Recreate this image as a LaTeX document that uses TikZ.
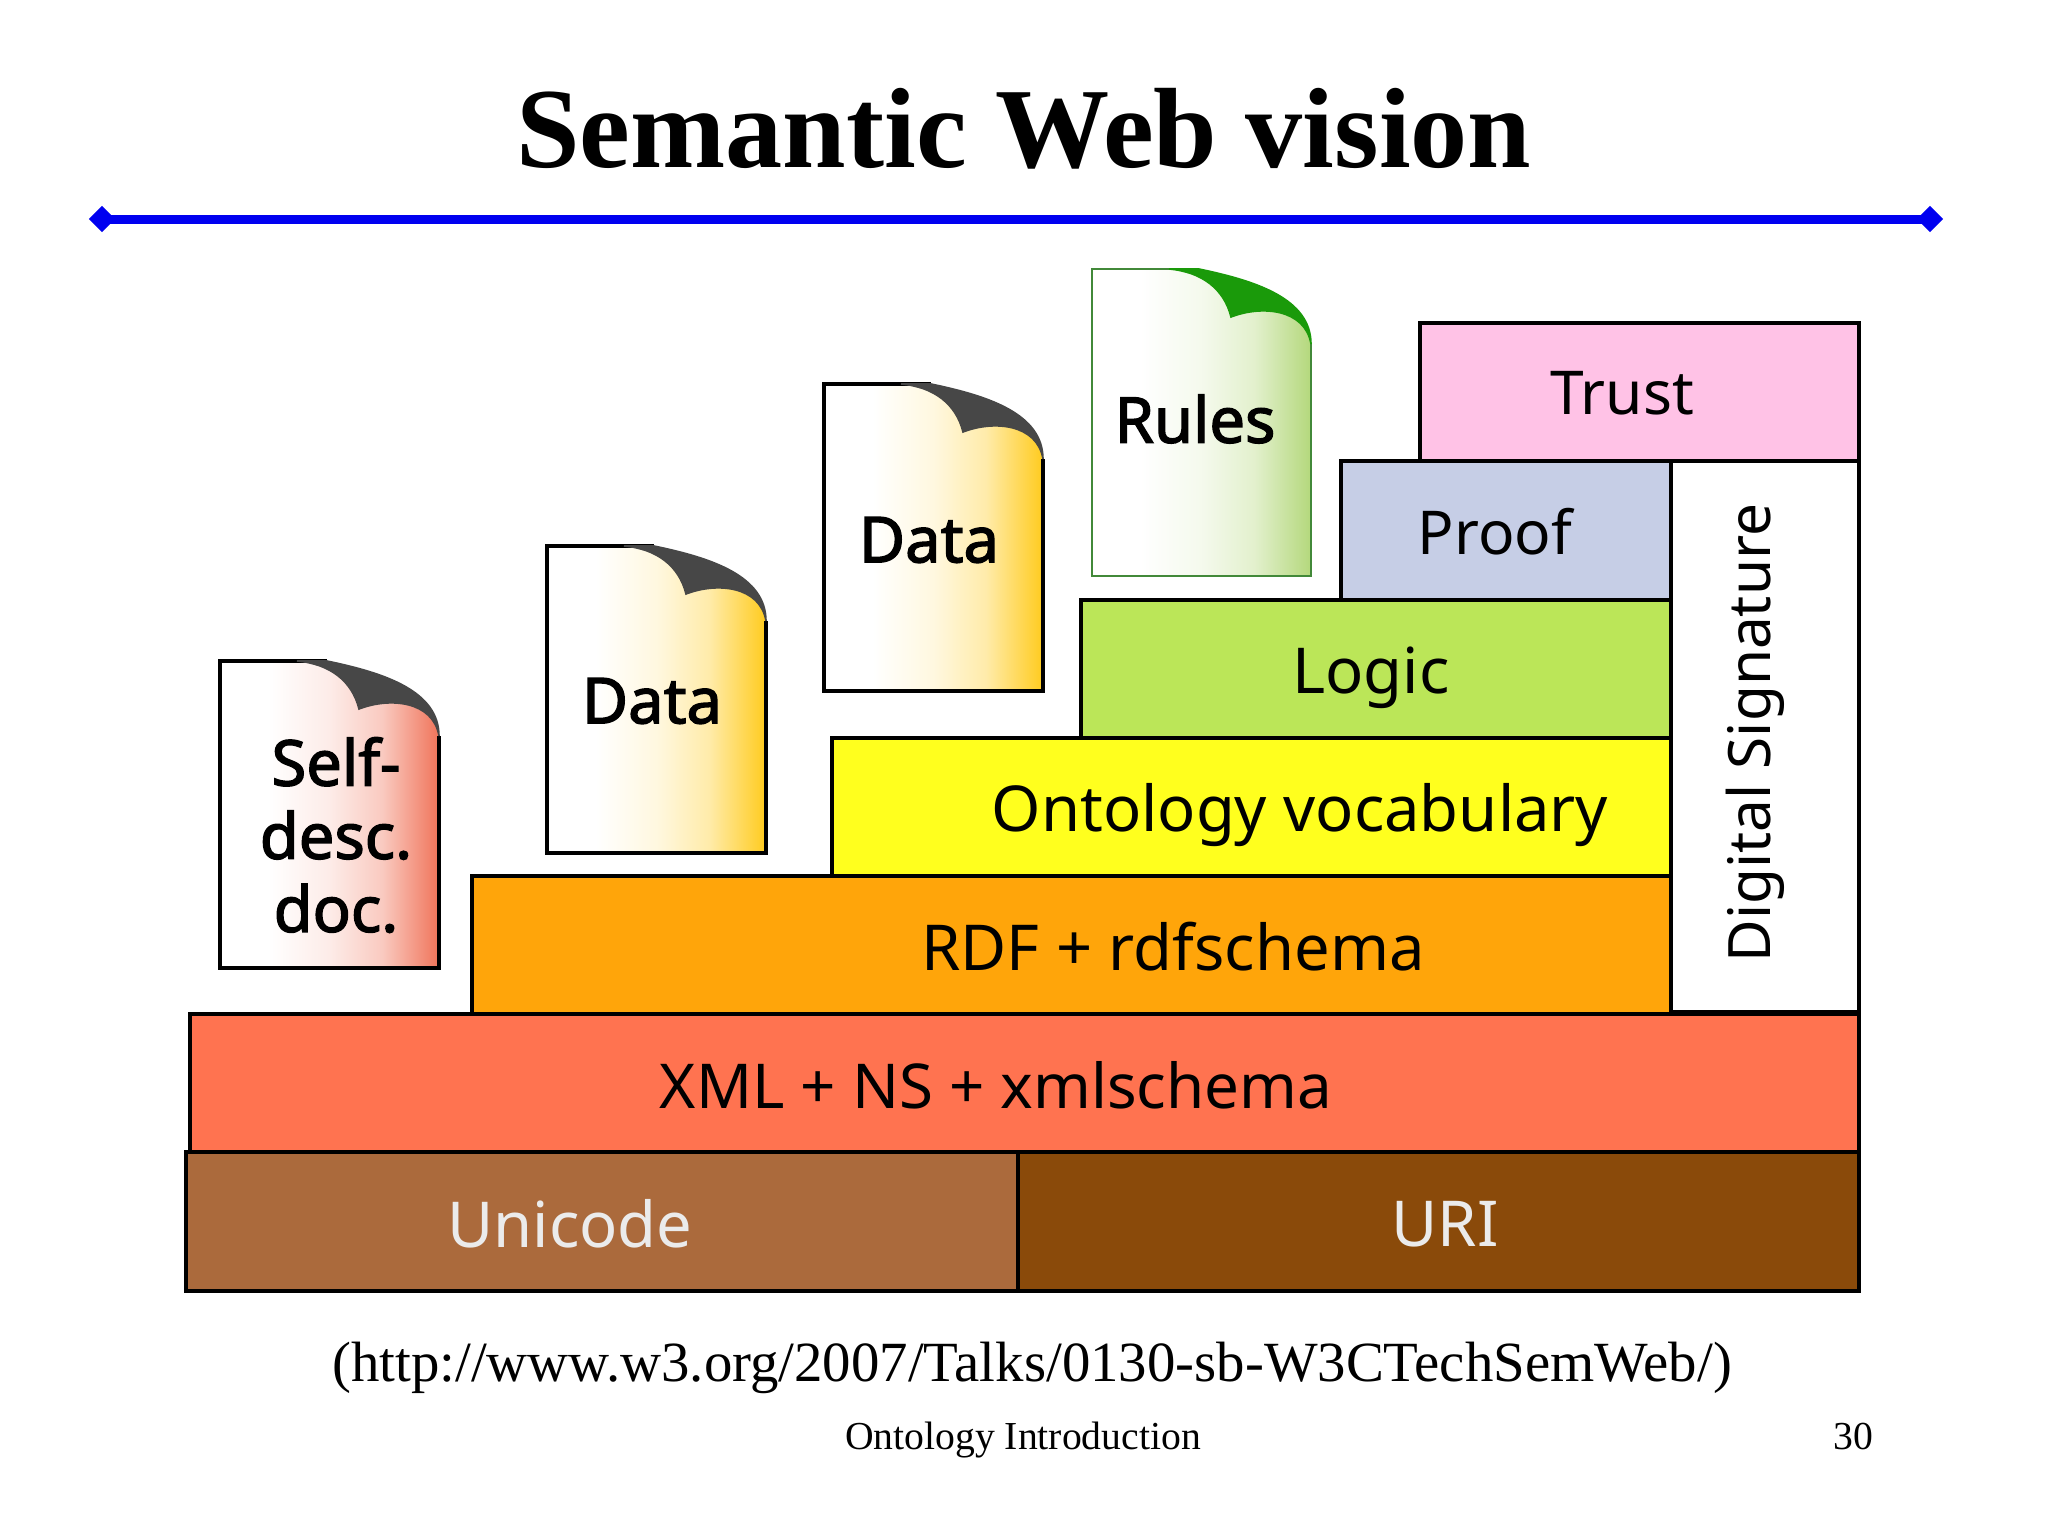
\documentclass[tikz,border=0pt]{standalone}
\usepackage{fontspec}
\setmainfont{Liberation Serif}
\newfontfamily\labelfont{Noto Sans}
\newfontfamily\doclabelfont[FakeBold=2.2]{Noto Sans}
\usetikzlibrary{shapes.geometric}
\definecolor{unicodebrown}{HTML}{AB6A3C}
\definecolor{uribrown}{HTML}{8A4A0A}
\definecolor{xmlred}{HTML}{FF7350}
\definecolor{rdforange}{HTML}{FFA50A}
\definecolor{ontoyellow}{HTML}{FFFF1E}
\definecolor{logicgreen}{HTML}{BBE658}
\definecolor{proofblue}{HTML}{C6CEE6}
\definecolor{trustpink}{HTML}{FFC2E6}
\definecolor{selfred}{HTML}{F0745A}
\definecolor{datagold}{HTML}{FFCB1E}
\definecolor{rulesgreen}{HTML}{B4D87C}
\definecolor{curlgreen}{HTML}{1A9A0A}
\definecolor{ruleblue}{HTML}{0000F0}
\def\docshading#1#2{\pgfdeclarehorizontalshading{#1}{100bp}{color(0bp)=(white); color(36bp)=(white); color(50bp)=(#2!14!white); color(62bp)=(#2!38!white); color(75bp)=(#2); color(100bp)=(#2)}}
\docshading{selfshade}{selfred}
\docshading{datashade}{datagold}
\docshading{rulesshade}{rulesgreen}
% page with its curled corner: [line colour, width](left,top){shading}{corner colour}
\def\docpage[#1](#2,#3)#4#5{
	\begin{scope}[shift={(#2,#3)}]
		\path[shading=#4, shading angle=0] (0,0) -- (107,0) .. controls (165,12) and (219,30) .. (219,75) -- (219,307) -- (0,307) -- cycle;
		\draw[#1] (107,0) -- (0,0) -- (0,307) -- (219,307) -- (219,75);
		\draw[line width=0.2mm, color=#5, fill=#5] (77,0) .. controls (110,3) and (132,20) .. (139,48) .. controls (170,36) and (213,40) .. (219,75) .. controls (219,30) and (165,12) .. (107,0) -- cycle;
	\end{scope}
}
\tikzset{
	layerbox/.style={draw=black, line width=0.4mm},
	layertext/.style={font=\fontsize{22.5}{26}\selectfont\labelfont, inner sep=0pt},
	doctext/.style={font=\fontsize{22.5}{26}\selectfont\doclabelfont, inner sep=0pt, align=center},
	enddiamond/.style={diamond, fill=ruleblue, inner sep=0pt, outer sep=0pt, minimum size=0.33cm},
	ruleline/.style={color=ruleblue, line width=3.2pt},
}
\begin{document}
\begin{tikzpicture}[x=0.0125cm, y=-0.0125cm]
	\useasboundingbox (0,0) rectangle (2048,1536);

	% title and rule
	\node[anchor=base, inner sep=0pt, font=\fontsize{40.6}{46}\selectfont\bfseries] (title) at (1024,167) {Semantic Web vision};
	\node[enddiamond] (ruleleft) at (102,219) {};
	\node[enddiamond] (ruleright) at (1930,219) {};
	\draw[ruleline] (ruleleft.center) -- (ruleright.center);

	% layers
	\draw[layerbox, fill=unicodebrown] (186,1152) rectangle (1018,1291);
	\draw[layerbox, fill=uribrown] (1018,1152) rectangle (1859,1291);
	\draw[layerbox, fill=xmlred] (190,1014) rectangle (1859,1152);
	\draw[layerbox, fill=white] (1671,461) rectangle (1859,1012);
	\draw[layerbox, fill=rdforange] (472,876) rectangle (1671,1014);
	\draw[layerbox, fill=ontoyellow] (832,738) rectangle (1671,876);
	\draw[layerbox, fill=logicgreen] (1081,600) rectangle (1671,738);
	\draw[layerbox, fill=proofblue] (1341,461) rectangle (1671,600);
	\draw[layerbox, fill=trustpink] (1420,323) rectangle (1859,461);

	\node[layertext, color=white!92!black] (unicode) at (570,1224) {Unicode};
	\node[layertext, color=white!92!black] (uri) at (1445,1224) {URI};
	\node[layertext, font=\fontsize{22}{26}\selectfont\labelfont] (xml) at (996,1085) {XML + NS + xmlschema};
	\node[layertext] (rdf) at (1173,947) {RDF + rdfschema};
	\node[layertext] (onto) at (1300,815) {Ontology vocabulary};
	\node[layertext] (logic) at (1371,678) {Logic};
	\node[layertext, font=\fontsize{21.5}{26}\selectfont\labelfont] (proof) at (1495,532) {Proof};
	\node[layertext, font=\fontsize{21.5}{26}\selectfont\labelfont] (trust) at (1622,393) {Trust};
	\node[layertext, rotate=90, font=\fontsize{20.8}{26}\selectfont\labelfont] (signature) at (1755,733) {Digital Signature};

	% documents
	\docpage[black, line width=0.4mm](220,661){selfshade}{black!72}
	\docpage[black, line width=0.4mm](547,546){datashade}{black!72}
	\docpage[black, line width=0.4mm](824,384){datashade}{black!72}
	\docpage[curlgreen!70!black!80, line width=0.35mm](1092,269){rulesshade}{curlgreen}

	\node[doctext] (self) at (336,835) {Self-\\desc.\\doc.};
	\node[doctext] (dataone) at (652,701) {Data};
	\node[doctext] (datatwo) at (929,540) {Data};
	\node[doctext] (rules) at (1195,419) {Rules};

	% source and footer
	\node[anchor=base, inner sep=0pt, font=\fontsize{20.2}{24}\selectfont] (source) at (1032,1381) {(http://www.w3.org/2007/Talks/0130-sb-W3CTechSemWeb/)};
	\node[anchor=base, inner sep=0pt, font=\fontsize{14.1}{17}\selectfont] (footer) at (1023,1449) {Ontology Introduction};
	\node[anchor=base, inner sep=0pt, font=\fontsize{14.1}{17}\selectfont] (pagenum) at (1853,1449) {30};
\end{tikzpicture}
\end{document}
